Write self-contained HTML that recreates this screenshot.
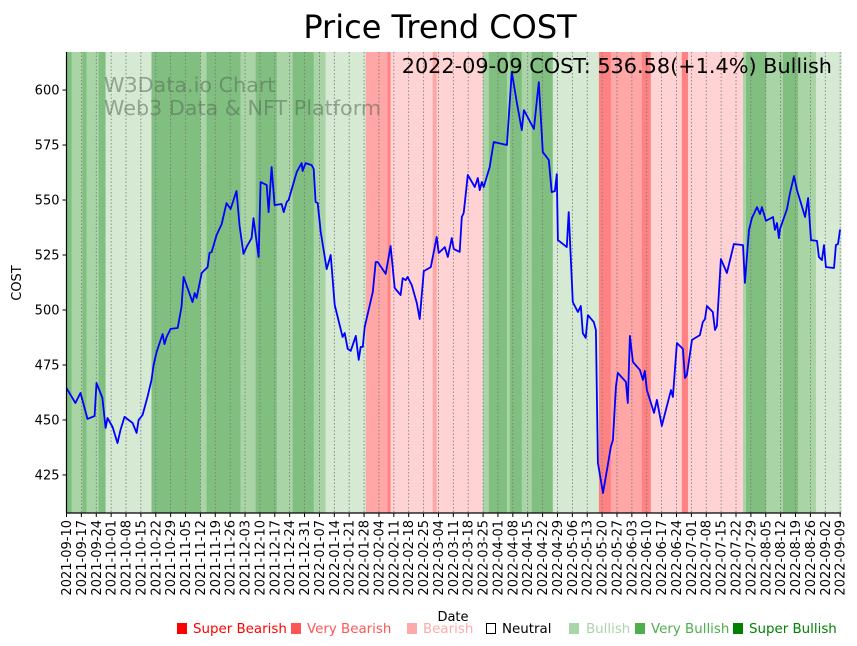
<!DOCTYPE html>
<html><head><meta charset="utf-8"><style>
html,body{margin:0;padding:0;background:#fff;}
svg{display:block;font-family:"DejaVu Sans","Liberation Sans",sans-serif;}
</style></head><body>
<svg id="chart" width="857" height="646" viewBox="0 0 857 646" xmlns="http://www.w3.org/2000/svg">
<text x="440" y="38" font-size="32" text-anchor="middle" fill="#000">Price Trend COST</text>
<g id="bands"></g>
<g id="grid"></g>
<text x="104" y="92" font-size="20.7" fill="#556b55" fill-opacity="0.55">W3Data.io Chart</text>
<text x="104" y="115" font-size="20.7" fill="#556b55" fill-opacity="0.55">Web3 Data &amp; NFT Platform</text>
<g id="line"></g>
<text x="832" y="73" font-size="20.8" text-anchor="end" fill="#000">2022-09-09 COST: 536.58(+1.4%) Bullish</text>
<g id="axes"></g>
<text x="453" y="621" font-size="13" text-anchor="middle">Date</text>
<text transform="translate(21,283) rotate(-90)" font-size="13" text-anchor="middle">COST</text>
<g font-size="13.4">
  <g><rect x="177" y="623" width="10" height="11" fill="#ff0000"/><text x="193" y="633" fill="#ff0000">Super Bearish</text></g>
  <g><rect x="291" y="623" width="10" height="11" fill="#ff5555"/><text x="307" y="633" fill="#ff5555">Very Bearish</text></g>
  <g><rect x="407" y="623" width="10" height="11" fill="#ffaaaa"/><text x="423" y="633" fill="#ffaaaa">Bearish</text></g>
  <g><rect x="486.5" y="623.5" width="9" height="10" fill="none" stroke="#000"/><text x="502" y="633" fill="#000">Neutral</text></g>
  <g><rect x="569" y="623" width="10" height="11" fill="#aad4aa"/><text x="586" y="633" fill="#aad4aa">Bullish</text></g>
  <g><rect x="635" y="623" width="10" height="11" fill="#4caf4c"/><text x="651" y="633" fill="#4caf4c">Very Bullish</text></g>
  <g><rect x="733" y="623" width="10" height="11" fill="#008000"/><text x="749" y="633" fill="#008000">Super Bullish</text></g>
</g>
</svg>
<script>
// day offsets from 2021-09-10
const days=[0,4.2,6.6,9.9,13.2,14.1,16.9,18.4,19.3,21.7,24,25.4,27.3,31.1,33,33.9,35.8,38.1,40,41,42.4,45.2,46.1,47.1,49,52.3,54.1,55.1,59.3,60.3,61.2,63.6,66.4,67.3,68.3,70.6,73,75.3,77.2,80,81.4,83.3,84.7,87.1,88,90.4,91.3,94.2,95.1,96.5,97.9,101.2,102.2,103.6,104.5,108.3,110.6,111.1,112.5,115.3,116.3,117.2,118.2,119.6,122.4,124.3,126.2,129.9,130.9,132.3,133.7,136.1,137.5,138.4,139.4,140.3,144.1,145.5,146.4,150.2,152.5,154.4,157.2,158.2,159.6,160.5,162.4,164.8,166.2,168.1,171.4,174.2,175.1,178,179.4,181.3,182.2,185,186,186.9,188.8,192.1,193.5,194.4,195.4,196.3,199.1,201,207.2,209.5,211.9,214.2,215.2,219.9,222.2,224.1,226.9,228.3,229.8,230.7,231.2,235.4,236.3,238.2,240.6,242,242.9,244.3,245.3,248.1,249.1,250,252.4,254.7,256.1,257.1,258.5,259.4,263.2,264.1,265.1,266.5,269.8,271.2,272.1,273.1,276.4,277.8,280.1,284.4,285.3,287.2,290,291,291.9,294.3,298,299.4,300.4,301.3,304.1,305.1,306,307.9,310.7,314,318.3,319.2,321.1,322.5,324.9,326.3,327.2,329.1,332.4,333.3,334.3,335.2,335.7,339,340.4,342.3,343.7,347.5,348.9,350.3,353.1,354,355.4,356.4,357.3,361.1,362,363,364];
const prices=[464.5,457.7,462.3,450.5,451.8,466.8,460,446.4,450.9,446.8,439.5,445.5,451.4,448.6,444.1,450,452.3,460.5,468.2,475,480.9,489.1,484.5,487.7,491.4,491.8,501.4,515,503.6,507.7,505.5,516.8,519.5,525.9,526.4,534.1,539.1,548.6,545.9,554.1,538.6,525.5,528.6,532.7,541.8,524.1,558.2,556.8,544.5,565,547.7,548.2,544.5,549.1,550,562.7,566.8,563.2,566.8,565.9,564.1,549.1,548.6,535.5,518.6,525,502.3,487.7,489.5,482.3,481.4,488.2,477.3,483.2,483.2,492.3,508.2,521.8,521.8,516.4,529.1,510,506.8,514.5,513.6,515,511.4,503.2,495.9,517.7,519.5,533.2,525.9,528.6,524.1,532.7,527.7,526.4,542.3,544.1,561.4,555.9,560,554.5,558.2,555.9,565,576.4,575,608.2,594.1,581.8,590.9,582.3,603.6,571.8,568.2,553.6,554.1,561.8,531.8,528.6,544.5,503.6,499.1,501.8,489.5,487.3,497.7,494.5,490.9,430.5,416.8,429.5,437.7,440.9,465,471.4,467.3,457.7,488.2,476.4,472.7,468.2,472.3,463.6,453.2,459.1,447.3,463.6,460.5,485,482.3,469.1,470.5,486.4,488.6,494.5,495.9,501.8,499.1,490.9,492.7,523.2,516.8,530,529.5,512.3,536.4,541.8,546.8,543.6,546.8,540.5,542.3,536.4,539.5,532.7,536.8,545.9,553.2,560.9,554.5,542.3,550.9,531.8,531.4,524.1,522.7,529.5,519.5,519.1,529.5,530,536.58];
// sentiment bands: start/end day and level (-3..3)
const bandStart=[0,2.4,7.5,9.4,15.1,18.4,40,63.1,65.9,81.9,89,98.9,106.4,116.3,121.9,140.8,151.1,152.5,172.3,174.2,195.9,198.7,207.2,208.6,214.2,218.9,228.8,250.5,256.1,270.7,274.9,289.5,292.4,318.3,319.7,329.1,337.1,344.2,352.6];
const bandEnd=[2.4,7.5,9.4,15.1,18.4,40,63.1,65.9,81.9,89,98.9,106.4,116.3,121.9,140.8,151.1,152.5,172.3,174.2,195.9,198.7,207.2,208.6,214.2,218.9,228.8,250.5,256.1,270.7,274.9,289.5,292.4,318.3,319.7,329.1,337.1,344.2,352.6,364.6];
const bandLevel=[3,2,3,2,3,1,3,2,3,2,3,2,3,2,1,-2,-3,-1,-2,-1,2,3,2,3,2,3,1,-3,-2,-3,-1,-3,-1,2,3,2,3,2,1];
const yTicks=[425,450,475,500,525,550,575,600];

const NS='http://www.w3.org/2000/svg';
const L=66.5,R=841,T=52,B=513,D0=0,D1=364.4,V0=407.7,V1=617.3;
const xS=d=>L+(d-D0)/(D1-D0)*(R-L);
const yS=v=>B-(v-V0)/(V1-V0)*(B-T);
function mk(tag,attrs,parent){const e=document.createElementNS(NS,tag);for(const k in attrs)e.setAttribute(k,attrs[k]);parent.appendChild(e);return e;}
const colors={'3':'#80bf80','2':'#a9d4a5','1':'#d5e9d3','-1':'#ffd3d3','-2':'#ffa7a7','-3':'#ff8282'};
const gB=document.getElementById('bands');
bandStart.forEach((s,i)=>{
  const r=mk('rect',{x:xS(s),y:T,width:Math.max(0,xS(bandEnd[i])-xS(s)+0.3),height:B-T,fill:colors[String(bandLevel[i])]},gB);
  
  
});
const gG=document.getElementById('grid'),gA=document.getElementById('axes');
const start=new Date(Date.UTC(2021,8,10));
for(let w=0;w<=52;w++){
  const d=w*7,x=xS(d);
  const gl=mk('line',{x1:x,x2:x,y1:T,y2:B,stroke:'#777','stroke-width':0.8,'stroke-dasharray':'1.5,2'},gG);
  
  
  mk('line',{x1:x,x2:x,y1:B,y2:B+4,stroke:'#000','stroke-width':1},gA);
  const dt=new Date(start.getTime()+d*86400000);
  const lbl=dt.toISOString().slice(0,10);
  const t=mk('text',{transform:`translate(${x+4.5},${B+7}) rotate(-90)`,'font-size':13,'text-anchor':'end'},gA);
  t.textContent=lbl;
  
  
}
yTicks.forEach(v=>{
  const y=yS(v);
  mk('line',{x1:L-4,x2:L,y1:y,y2:y,stroke:'#000','stroke-width':1},gA);
  const t=mk('text',{x:L-7,y:y+4.5,'font-size':13,'text-anchor':'end'},gA);
  t.textContent=v;
  
  
});
mk('line',{x1:L,x2:L,y1:T,y2:B,stroke:'#000','stroke-width':1.2},gA);
mk('line',{x1:L,x2:R,y1:B,y2:B,stroke:'#000','stroke-width':1.2},gA);
const pts=days.map((d,i)=>xS(d).toFixed(1)+','+yS(prices[i]).toFixed(1)).join(' ');
const pl=mk('polyline',{points:pts,fill:'none',stroke:'#0000ff','stroke-width':1.8,'stroke-linejoin':'round'},document.getElementById('line'));


</script>
</body></html>
